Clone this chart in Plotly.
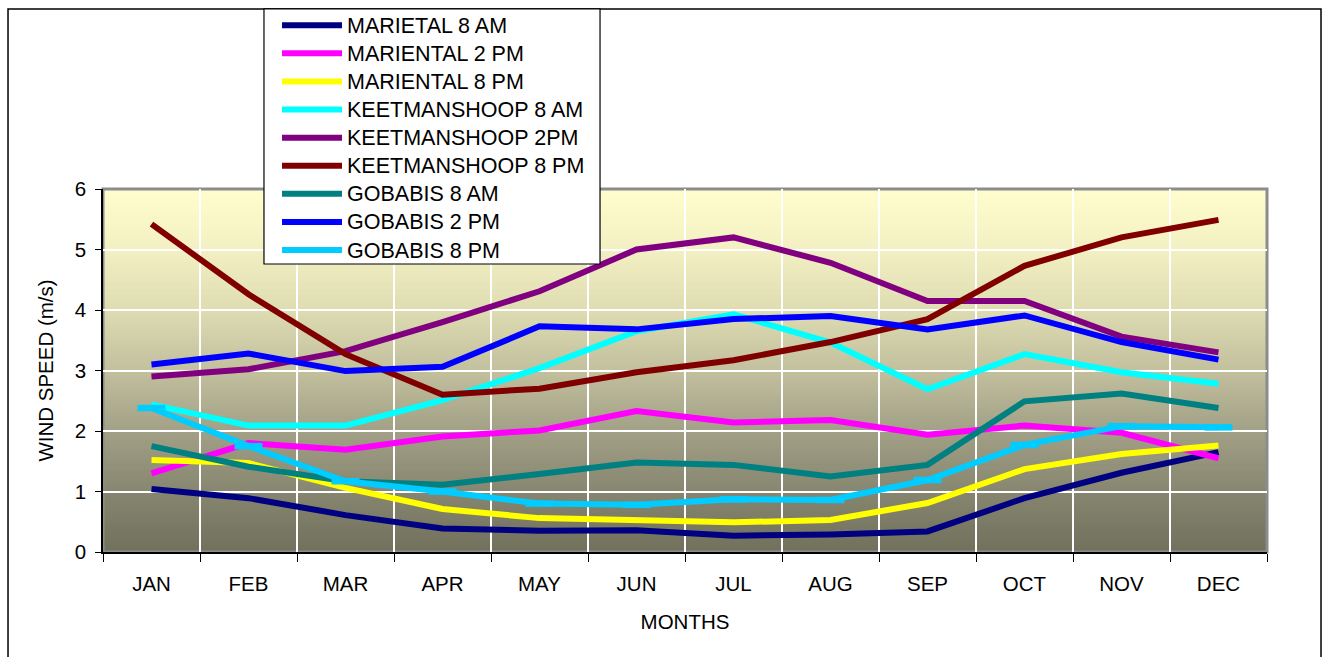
import plotly.graph_objects as go

# Monthly mean wind speeds (m/s) at three stations, three observation times
months = ["JAN", "FEB", "MAR", "APR", "MAY", "JUN", "JUL", "AUG", "SEP", "OCT", "NOV", "DEC"]

mariental_8am = [1.04, 0.89, 0.61, 0.39, 0.35, 0.36, 0.27, 0.29, 0.34, 0.89, 1.31, 1.65]
mariental_2pm = [1.30, 1.80, 1.69, 1.91, 2.01, 2.33, 2.14, 2.18, 1.94, 2.09, 1.97, 1.55]
mariental_8pm = [1.52, 1.47, 1.06, 0.71, 0.56, 0.52, 0.49, 0.53, 0.81, 1.37, 1.62, 1.76]
keetmanshoop_8am = [2.44, 2.09, 2.09, 2.51, 3.04, 3.65, 3.93, 3.46, 2.69, 3.27, 2.97, 2.78]
keetmanshoop_2pm = [2.90, 3.02, 3.32, 3.80, 4.31, 5.00, 5.20, 4.78, 4.15, 4.15, 3.56, 3.30]
keetmanshoop_8pm = [5.42, 4.26, 3.27, 2.60, 2.70, 2.97, 3.17, 3.47, 3.85, 4.73, 5.20, 5.49]
gobabis_8am = [1.75, 1.41, 1.17, 1.11, 1.29, 1.48, 1.44, 1.25, 1.44, 2.49, 2.62, 2.38]
gobabis_2pm = [3.10, 3.28, 2.99, 3.06, 3.73, 3.68, 3.85, 3.90, 3.68, 3.91, 3.47, 3.18]
gobabis_8pm = [2.38, 1.75, 1.17, 1.00, 0.80, 0.78, 0.87, 0.86, 1.19, 1.77, 2.08, 2.06]

series_names = [
    "MARIETAL 8 AM", "MARIENTAL 2 PM", "MARIENTAL 8 PM",
    "KEETMANSHOOP 8 AM", "KEETMANSHOOP 2PM", "KEETMANSHOOP 8 PM",
    "GOBABIS 8 AM", "GOBABIS 2 PM", "GOBABIS 8 PM",
]
series_values = [
    mariental_8am, mariental_2pm, mariental_8pm,
    keetmanshoop_8am, keetmanshoop_2pm, keetmanshoop_8pm,
    gobabis_8am, gobabis_2pm, gobabis_8pm,
]
series_colors = [
    "#000080", "#FF00FF", "#FFFF00",
    "#00FFFF", "#800080", "#800000",
    "#008080", "#0000FF", "#00CCFF",
]

FONT = "Liberation Sans, Arial, sans-serif"

fig = go.Figure()
for name, vals, col in zip(series_names, series_values, series_colors):
    dashed = name == "GOBABIS 8 PM"
    fig.add_trace(go.Scatter(
        x=months, y=vals,
        # legend entries use slightly larger lettering than the row pitch
        name='<span style="font-size:21.5px">%s</span>' % name,
        mode="lines+markers" if dashed else "lines",
        line=dict(color=col, width=6),
        marker=dict(symbol="line-ew", size=20, color=col,
                    line=dict(color=col, width=6.5)) if dashed else None,
    ))

# Vertical gradient fill of the plot area (pale yellow at the top to olive grey)
stops = [
    (0.0, (0x71, 0x70, 0x5C)),
    (1 / 6, (0x87, 0x86, 0x70)),
    (2 / 6, (0xA2, 0xA0, 0x86)),
    (3 / 6, (0xC2, 0xC0, 0x9D)),
    (4 / 6, (0xDE, 0xDC, 0xB2)),
    (5 / 6, (0xF3, 0xF0, 0xC3)),
    (1.0, (0xFF, 0xFD, 0xCD)),
]


def grad_color(t):
    for (t0, c0), (t1, c1) in zip(stops[:-1], stops[1:]):
        if t <= t1:
            f = (t - t0) / (t1 - t0)
            return "rgb(%d,%d,%d)" % tuple(round(a + (b - a) * f) for a, b in zip(c0, c1))
    return "rgb(%d,%d,%d)" % stops[-1][1]


n_bands = 120
shapes = []
for i in range(n_bands):
    y0 = i / n_bands
    y1 = (i + 1) / n_bands
    shapes.append(dict(
        type="rect", xref="paper", yref="paper", x0=0, x1=1, y0=y0, y1=y1 + 0.002,
        fillcolor=grad_color((y0 + y1) / 2), line=dict(width=0), layer="below",
    ))

# Plot area frame
shapes.append(dict(type="rect", xref="paper", yref="paper", x0=0, x1=1, y0=0, y1=1,
                   line=dict(color="#8C8C8C", width=3), layer="below"))
# Outer chart frame
shapes.append(dict(type="rect", xref="paper", yref="paper",
                   x0=-0.0816, x1=1.0464, y0=-0.30, y1=1.496,
                   line=dict(color="black", width=1.5), fillcolor="rgba(0,0,0,0)",
                   layer="below"))
# Legend box
shapes.append(dict(type="rect", xref="paper", yref="paper",
                   x0=0.1383, x1=0.4270, y0=0.7934, y1=1.496,
                   line=dict(color="black", width=1.2), fillcolor="white",
                   layer="above"))

fig.update_layout(
    width=1327, height=657,
    margin=dict(l=103, r=60, t=189, b=105, autoexpand=False),
    paper_bgcolor="white",
    plot_bgcolor="rgba(0,0,0,0)",
    font=dict(family=FONT, size=20.5, color="black"),
    shapes=shapes,
    showlegend=True,
    legend=dict(
        x=0.1495, y=1.5035, xanchor="left", yanchor="top",
        bgcolor="rgba(0,0,0,0)", borderwidth=0,
        font=dict(family=FONT, size=19.3, color="black"),
        itemwidth=60, tracegroupgap=0,
    ),
    xaxis=dict(
        type="category", range=[-0.5, 11.5],
        tickson="boundaries", ticks="outside", ticklen=8, tickcolor="black",
        ticklabelstandoff=13,
        showgrid=True, gridcolor="white", gridwidth=1.5,
        showline=True, linecolor="black", linewidth=1.5,
        tickfont=dict(size=20.5),
        title=dict(text="MONTHS", font=dict(size=20.5), standoff=20),
    ),
    yaxis=dict(
        range=[0, 6], dtick=1, tick0=0,
        ticks="outside", ticklen=6, tickcolor="black",
        ticklabelstandoff=5,
        showgrid=True, gridcolor="white", gridwidth=1.5,
        showline=True, linecolor="black", linewidth=1.5,
        zeroline=False,
        tickfont=dict(size=20.5),
        title=dict(text="WIND SPEED (m/s)", font=dict(size=20.5), standoff=16),
    ),
)

fig.write_html("out.html")
